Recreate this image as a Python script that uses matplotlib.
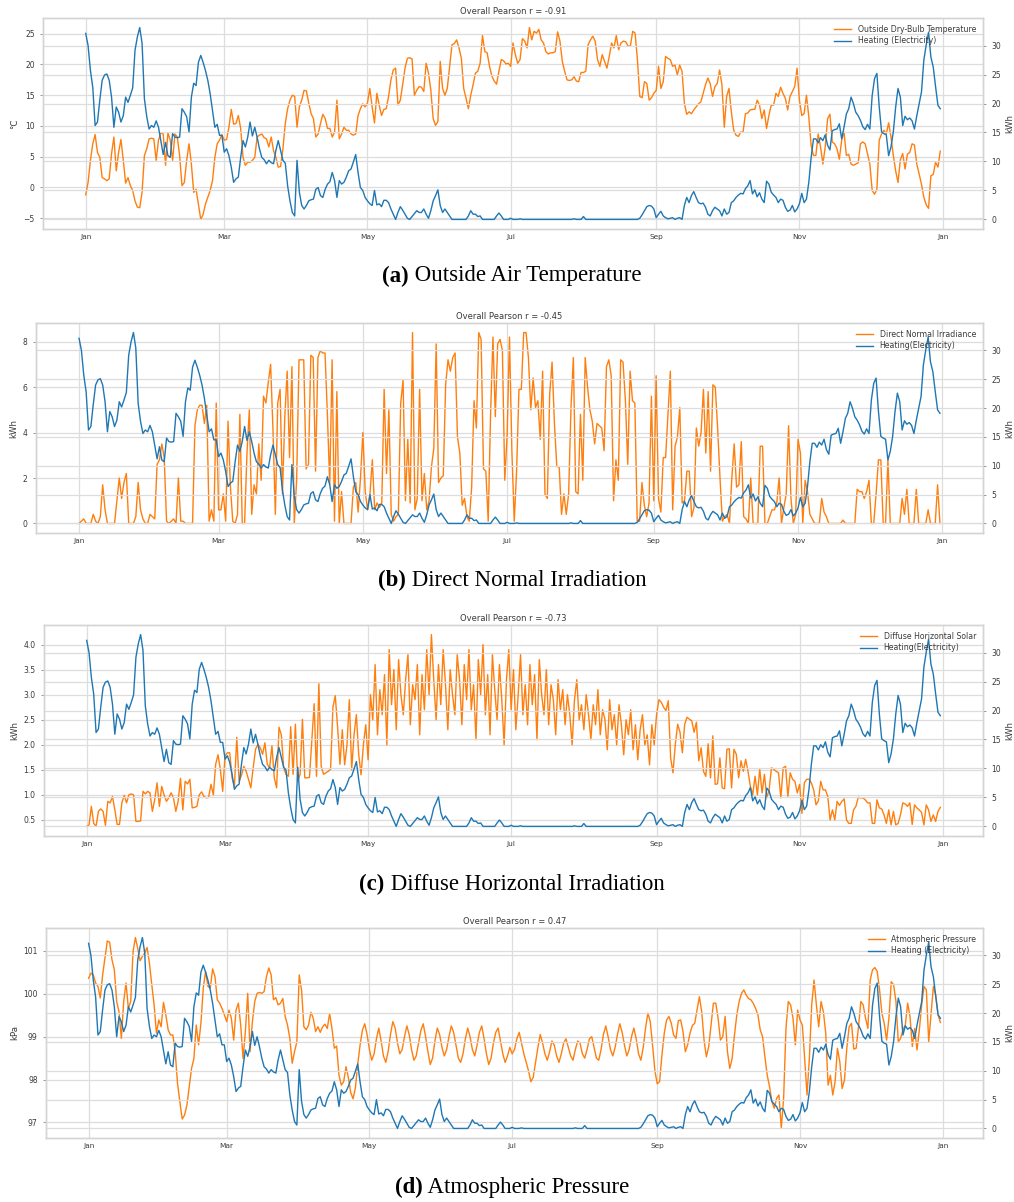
import pandas as pd
import matplotlib
matplotlib.use("Agg")
import matplotlib.pyplot as plt
import matplotlib.dates as mdates
from matplotlib.ticker import MultipleLocator

# daily heating electricity (kWh), shared by all four panels
heating = [
    32.1, 30.0, 25.7, 22.8, 16.2, 16.8, 20.6, 24.0, 24.9, 25.1,
    24.0, 21.1, 15.9, 19.4, 18.5, 16.8, 17.9, 21.1, 20.2, 21.4,
    22.7, 29.2, 31.5, 33.1, 30.4, 20.8, 17.7, 15.6, 16.2, 15.9,
    17.0, 15.9, 13.6, 11.2, 13.3, 11.0, 10.7, 14.8, 14.2, 14.1,
    14.2, 19.1, 18.5, 17.7, 15.1, 21.1, 23.5, 23.1, 27.1, 28.3,
    27.1, 25.7, 24.0, 21.7, 18.8, 15.9, 16.4, 14.5, 14.5, 11.6,
    12.2, 11.0, 9.0, 6.4, 7.0, 7.3, 10.7, 13.6, 12.5, 14.2,
    16.8, 14.4, 15.9, 14.2, 12.2, 10.7, 10.3, 9.6, 10.2, 9.8,
    9.6, 11.9, 13.6, 11.9, 10.2, 9.7, 5.8, 3.2, 1.2, 0.6,
    10.2, 4.7, 2.4, 1.8, 2.4, 3.2, 3.4, 3.5, 5.2, 5.5,
    4.1, 3.8, 5.2, 6.1, 6.5, 8.1, 6.7, 3.8, 6.7, 6.1,
    6.4, 7.3, 8.4, 8.7, 9.9, 11.2, 8.1, 5.5, 5.0, 3.8,
    3.2, 2.7, 2.4, 5.0, 2.5, 2.7, 2.2, 3.3, 3.3, 2.9,
    1.8, 0.9, 0.0, 1.2, 2.2, 1.6, 0.9, 0.2, 0.0, 0.5,
    1.0, 1.5, 1.2, 1.2, 1.8, 0.9, 0.2, 1.5, 3.2, 4.1,
    5.1, 2.4, 1.2, 1.8, 1.2, 0.6, 0.0, 0.0, 0.0, 0.0,
    0.0, 0.0, 0.0, 0.6, 1.5, 0.9, 0.9, 0.5, 0.6, 0.0,
    0.0, 0.0, 0.0, 0.0, 0.0, 0.6, 1.1, 0.6, 0.0, 0.0,
    0.0, 0.2, 0.0, 0.0, 0.0, 0.1, 0.0, 0.0, 0.0, 0.0,
    0.0, 0.0, 0.0, 0.0, 0.0, 0.0, 0.0, 0.0, 0.0, 0.0,
    0.0, 0.0, 0.0, 0.0, 0.0, 0.0, 0.0, 0.0, 0.1, 0.0,
    0.0, 0.0, 0.5, 0.0, 0.0, 0.0, 0.0, 0.0, 0.0, 0.0,
    0.0, 0.0, 0.0, 0.0, 0.0, 0.0, 0.0, 0.0, 0.0, 0.0,
    0.0, 0.0, 0.0, 0.0, 0.0, 0.0, 0.2, 0.8, 1.5, 2.2,
    2.4, 2.3, 1.8, 0.3, 0.9, 1.4, 0.6, 0.3, 0.1, 0.2,
    0.3, 0.0, 0.2, 0.3, 0.0, 2.4, 3.8, 2.9, 4.1, 4.8,
    3.8, 2.9, 2.7, 2.8, 2.1, 0.9, 0.6, 1.5, 2.1, 1.8,
    1.5, 0.6, 1.8, 0.9, 1.2, 2.9, 3.2, 3.8, 4.2, 4.5,
    4.4, 5.3, 5.8, 6.7, 4.4, 5.1, 3.9, 4.6, 3.5, 2.9,
    6.6, 6.1, 4.7, 4.2, 3.8, 2.9, 3.5, 3.3, 2.1, 1.4,
    1.6, 2.4, 1.3, 1.8, 2.7, 4.5, 2.9, 3.5, 6.4, 10.7,
    13.9, 13.9, 13.2, 14.1, 13.6, 14.6, 12.8, 12.0, 15.3, 15.5,
    15.6, 16.5, 13.9, 15.9, 18.2, 19.1, 21.1, 20.0, 18.5, 17.9,
    17.1, 16.0, 15.5, 16.4, 15.6, 21.4, 24.3, 25.2, 19.4, 15.1,
    14.8, 14.6, 11.0, 12.5, 15.1, 19.4, 22.6, 21.1, 16.2, 17.8,
    17.2, 17.5, 17.0, 15.6, 17.9, 20.0, 22.0, 27.5, 30.1, 32.3,
    28.0, 26.3, 22.9, 19.7, 19.1,
]

# outside dry-bulb temperature (degC)
outside_temp = [
    -1.2, 0.8, 4.4, 7.1, 8.6, 5.7, 4.9, 1.6, 1.4, 1.1,
    1.4, 5.5, 8.2, 2.7, 5.7, 7.8, 4.4, 0.7, 1.6, 0.3,
    -0.5, -2.2, -3.2, -3.3, -0.8, 5.2, 6.3, 7.9, 8.0, 7.9,
    4.4, 7.7, 8.9, 8.7, 3.6, 8.9, 7.7, 4.4, 8.7, 8.2,
    5.2, 0.3, 0.8, 4.4, 7.1, 3.8, -0.8, -0.3, -2.7, -5.2,
    -4.4, -2.7, -1.6, -0.5, 1.1, 4.9, 7.1, 7.7, 8.6, 7.7,
    7.8, 9.8, 12.7, 10.3, 10.4, 11.7, 9.6, 4.9, 3.6, 4.1,
    4.1, 4.4, 4.9, 8.2, 8.5, 8.7, 8.1, 7.9, 6.6, 8.2,
    6.0, 4.9, 3.3, 3.4, 6.3, 10.4, 12.8, 14.2, 15.0, 14.8,
    9.8, 13.1, 14.2, 15.8, 15.7, 13.7, 12.0, 11.2, 8.2, 8.7,
    10.4, 11.9, 11.2, 9.6, 9.6, 8.2, 9.0, 14.2, 7.9, 8.7,
    9.8, 9.3, 9.3, 8.7, 8.5, 8.7, 11.7, 12.8, 13.6, 13.1,
    13.7, 16.1, 13.1, 10.5, 15.3, 13.4, 11.7, 12.7, 12.8, 14.8,
    17.5, 19.1, 19.4, 13.4, 14.2, 16.7, 19.4, 21.0, 21.1, 20.9,
    15.0, 15.8, 16.4, 16.3, 15.6, 20.2, 18.6, 15.8, 11.2, 10.1,
    10.7, 20.5, 16.1, 15.0, 16.1, 19.7, 23.2, 23.4, 24.0, 22.7,
    21.0, 16.1, 14.5, 12.8, 15.0, 16.7, 18.6, 18.9, 20.2, 24.7,
    22.1, 21.9, 19.7, 18.1, 17.3, 16.8, 18.9, 20.8, 20.6, 20.1,
    20.2, 19.7, 23.5, 21.6, 20.2, 20.8, 24.2, 23.8, 22.7, 26.0,
    24.0, 25.4, 25.1, 25.7, 24.0, 23.5, 22.1, 21.7, 21.9, 21.9,
    22.1, 25.3, 23.8, 20.5, 18.9, 17.5, 17.4, 17.5, 18.0, 17.3,
    17.2, 18.7, 18.7, 18.9, 23.2, 24.0, 24.6, 23.8, 20.8, 19.7,
    21.6, 20.5, 19.4, 21.3, 23.5, 22.7, 24.7, 22.4, 23.5, 23.8,
    23.7, 23.0, 23.0, 25.4, 25.1, 20.8, 14.8, 14.6, 17.2, 16.9,
    14.2, 14.6, 15.3, 15.8, 19.7, 16.1, 17.2, 21.3, 21.0, 20.8,
    19.7, 19.9, 18.3, 19.9, 18.9, 13.7, 11.9, 12.3, 12.0, 12.6,
    13.1, 13.6, 13.9, 15.3, 16.7, 17.8, 16.9, 14.8, 16.4, 16.9,
    19.1, 16.7, 9.8, 14.8, 16.1, 12.3, 9.3, 8.5, 8.3, 9.0,
    9.0, 12.0, 12.1, 12.6, 12.7, 12.7, 14.2, 13.4, 11.2, 12.6,
    9.6, 11.7, 13.4, 13.4, 15.3, 14.8, 16.3, 15.3, 14.5, 12.6,
    14.8, 15.6, 16.4, 19.4, 14.2, 11.7, 12.0, 15.0, 11.5, 6.8,
    5.2, 5.2, 8.7, 6.6, 3.8, 6.6, 11.2, 11.9, 7.4, 7.1,
    6.3, 4.6, 7.7, 9.0, 5.2, 5.4, 3.8, 3.6, 3.8, 4.0,
    7.1, 7.4, 7.1, 5.5, 3.8, -0.5, -1.1, -0.3, 7.7, 8.7,
    9.3, 8.7, 10.5, 8.2, 5.2, 2.7, 0.8, 4.5, 5.5, 3.0,
    5.4, 5.7, 7.1, 6.9, 3.8, 2.2, 0.5, -1.6, -2.8, -3.4,
    1.9, 2.1, 4.1, 3.3, 5.9,
]

# direct normal irradiance (kWh)
direct_normal = [
    0.0, 0.1, 0.2, 0.0, 0.0, 0.0, 0.4, 0.1, 0.0, 0.3,
    1.7, 0.6, 0.0, 0.0, 0.0, 0.0, 1.0, 2.0, 1.1, 1.8,
    2.2, 0.0, 0.0, 0.0, 0.3, 1.8, 0.6, 0.2, 0.0, 0.0,
    0.4, 0.3, 0.2, 2.6, 2.8, 3.5, 2.9, 0.1, 0.0, 0.1,
    0.2, 0.0, 2.0, 0.1, 0.1, 0.0, 0.0, 0.0, 0.0, 4.3,
    5.0, 5.2, 5.2, 4.4, 5.2, 0.1, 0.6, 0.1, 5.3, 0.6,
    0.6, 1.3, 0.1, 4.5, 1.6, 0.1, 0.0, 0.4, 4.8, 0.0,
    0.0, 3.1, 5.0, 0.4, 1.7, 1.3, 3.5, 1.9, 5.6, 5.3,
    6.2, 7.0, 4.1, 0.4, 5.3, 5.9, 1.3, 4.7, 6.7, 2.9,
    6.9, 0.0, 1.9, 7.2, 7.2, 7.2, 2.4, 2.6, 7.4, 7.3,
    2.3, 7.3, 7.6, 7.5, 7.5, 4.8, 1.7, 7.2, 0.1, 5.8,
    0.0, 1.4, 0.0, 0.0, 0.0, 0.0, 1.6, 1.8, 0.5, 2.0,
    4.0, 1.4, 0.6, 1.3, 2.8, 0.6, 0.9, 0.7, 0.9, 5.9,
    2.2, 5.0, 0.4, 0.1, 0.3, 0.4, 5.3, 6.3, 1.0, 3.7,
    0.9, 8.4, 0.6, 1.1, 5.9, 1.0, 2.2, 0.6, 1.0, 2.5,
    3.3, 7.9, 1.8, 2.0, 2.1, 6.1, 7.2, 6.7, 7.3, 7.5,
    3.8, 3.1, 0.8, 1.1, 0.3, 0.1, 1.6, 5.4, 4.2, 8.4,
    8.1, 2.4, 2.3, 0.1, 4.8, 8.2, 4.7, 7.9, 8.1, 7.6,
    1.9, 3.9, 8.2, 3.2, 0.1, 2.3, 5.9, 5.9, 8.4, 8.4,
    7.3, 5.0, 6.4, 5.1, 5.4, 3.7, 6.7, 1.3, 1.1, 5.7,
    7.1, 4.4, 2.5, 2.5, 0.4, 1.3, 0.4, 1.3, 5.1, 7.3,
    1.4, 1.3, 4.8, 1.9, 7.3, 6.0, 5.0, 4.5, 3.5, 4.4,
    4.3, 4.2, 3.2, 6.9, 7.2, 6.5, 1.0, 2.8, 1.9, 7.2,
    7.1, 5.4, 2.6, 6.7, 5.4, 5.3, 0.1, 0.1, 1.8, 0.8,
    0.3, 0.9, 5.6, 1.0, 6.5, 1.1, 0.5, 2.9, 2.9, 4.8,
    6.7, 0.6, 3.4, 3.8, 5.1, 0.9, 1.0, 2.3, 2.3, 0.3,
    0.7, 4.2, 3.4, 4.0, 5.9, 3.1, 5.8, 2.3, 6.1, 6.0,
    4.2, 2.0, 0.1, 0.3, 0.4, 0.0, 2.0, 3.5, 1.6, 1.7,
    3.6, 0.3, 0.2, 0.0, 2.0, 0.0, 0.0, 0.0, 3.4, 3.4,
    0.0, 0.0, 0.3, 0.6, 0.6, 0.9, 2.0, 0.0, 0.7, 1.3,
    4.3, 1.1, 0.0, 0.4, 3.7, 3.1, 0.0, 1.9, 1.4, 0.4,
    0.2, 0.0, 0.0, 0.0, 1.1, 0.5, 0.3, 0.0, 0.0, 0.0,
    0.0, 0.0, 0.0, 0.15, 0.0, 0.0, 0.0, 0.0, 0.0, 1.5,
    1.4, 1.4, 1.1, 1.4, 1.9, 0.0, 0.0, 1.3, 2.8, 2.8,
    0.0, 0.0, 2.8, 0.0, 0.0, 0.0, 0.0, 0.0, 1.1, 0.4,
    1.5, 0.0, 0.0, 0.0, 1.5, 0.0, 0.0, 0.0, 0.0, 0.6,
    0.0, 0.0, 0.0, 1.7, 0.0,
]

# diffuse horizontal solar (kWh)
diffuse_horizontal = [
    0.37, 0.40, 0.77, 0.43, 0.37, 0.67, 0.72, 0.67, 0.39, 0.87,
    0.84, 0.97, 0.70, 0.41, 0.41, 0.84, 0.99, 0.84, 1.00, 1.02,
    1.00, 0.47, 0.47, 0.48, 1.07, 1.02, 1.07, 1.04, 0.67, 0.90,
    1.24, 0.77, 1.17, 1.00, 0.87, 0.94, 1.04, 0.94, 0.67, 0.87,
    1.33, 0.70, 1.27, 1.22, 1.31, 0.74, 0.75, 0.77, 1.00, 1.06,
    0.97, 0.94, 0.95, 1.21, 1.00, 1.61, 1.80, 1.51, 1.07, 1.78,
    1.84, 1.84, 1.34, 1.17, 2.15, 1.27, 1.39, 1.57, 1.47, 1.31,
    1.14, 1.54, 1.91, 2.01, 1.94, 1.81, 2.04, 1.61, 1.54, 1.98,
    1.34, 1.14, 2.35, 2.20, 1.54, 1.41, 1.37, 2.36, 1.41, 2.41,
    1.27, 1.41, 2.51, 1.34, 1.34, 1.35, 2.08, 2.82, 1.37, 3.22,
    1.57, 1.41, 1.44, 1.47, 1.51, 2.75, 2.98, 2.35, 1.61, 2.30,
    1.60, 2.00, 2.90, 1.50, 2.20, 2.60, 1.80, 1.40, 2.00, 2.40,
    1.70, 3.00, 2.50, 3.60, 2.20, 3.10, 2.60, 3.40, 2.00, 3.90,
    2.80, 3.50, 2.30, 3.70, 3.00, 2.60, 3.30, 3.80, 2.40, 3.20,
    2.90, 3.60, 2.20, 3.40, 2.70, 3.90, 3.00, 4.20, 3.30, 2.50,
    3.60, 2.80, 3.90, 3.20, 2.30, 3.50, 3.00, 2.60, 3.80, 3.30,
    2.40, 3.60, 2.90, 3.90, 2.70, 3.20, 2.10, 3.70, 3.00, 4.00,
    2.60, 3.40, 2.20, 3.80, 3.10, 2.50, 3.60, 2.90, 2.00, 3.30,
    3.90, 2.70, 3.50, 2.30, 3.00, 3.80, 2.60, 3.20, 2.40, 3.60,
    2.80, 3.40, 2.10, 3.70, 3.00, 2.60, 3.50, 2.40, 3.20, 2.90,
    2.20, 3.30, 2.70, 3.10, 2.40, 3.00, 2.60, 2.00, 2.90, 3.30,
    2.50, 2.80, 2.30, 3.00, 2.60, 2.10, 2.80, 2.40, 3.10, 2.20,
    2.70, 2.50, 1.90, 2.90, 2.30, 2.60, 2.00, 2.80, 2.40, 1.80,
    2.50, 2.20, 2.70, 1.90, 2.40, 1.70, 2.30, 2.60, 2.00, 2.20,
    1.60, 2.40, 2.00, 2.60, 2.90, 2.85, 2.75, 2.68, 2.88, 1.74,
    1.44, 2.01, 2.41, 2.25, 1.84, 2.41, 2.55, 2.51, 2.48, 2.25,
    2.45, 1.68, 1.94, 1.47, 1.37, 2.02, 1.34, 2.18, 1.21, 1.22,
    1.74, 1.14, 1.12, 1.91, 1.92, 1.14, 1.91, 1.81, 1.34, 1.68,
    1.47, 1.71, 1.47, 1.17, 1.00, 1.37, 1.00, 1.51, 1.04, 1.41,
    0.94, 1.10, 1.54, 1.51, 1.47, 1.44, 0.94, 1.54, 1.57, 0.97,
    1.44, 1.31, 1.27, 1.04, 1.21, 0.63, 1.24, 1.31, 1.31, 1.24,
    1.10, 0.80, 0.88, 1.27, 1.10, 1.10, 0.97, 0.50, 0.70, 0.50,
    0.87, 0.79, 0.87, 0.92, 0.50, 0.43, 0.43, 0.70, 0.77, 0.95,
    0.94, 0.94, 0.90, 0.84, 0.84, 0.43, 0.43, 0.90, 0.74, 0.72,
    0.60, 0.43, 0.70, 0.40, 0.67, 0.40, 0.43, 0.60, 0.84, 0.82,
    0.77, 0.84, 0.41, 0.80, 0.74, 0.70, 0.65, 0.40, 0.80, 0.70,
    0.47, 0.60, 0.47, 0.67, 0.75,
]

# atmospheric pressure (kPa)
pressure = [
    100.36, 100.48, 100.44, 100.25, 100.17, 99.90, 100.44, 100.83, 101.23, 101.20,
    100.79, 100.56, 99.82, 99.58, 98.96, 99.82, 100.25, 99.66, 99.82, 100.98,
    101.31, 101.06, 100.77, 100.87, 100.95, 101.08, 100.71, 100.21, 99.74, 99.08,
    99.39, 99.23, 99.80, 99.51, 99.16, 99.04, 99.04, 98.65, 97.91, 97.48,
    97.08, 97.17, 97.40, 97.83, 98.26, 98.49, 99.27, 98.81, 99.31, 100.13,
    100.52, 100.17, 100.13, 100.58, 100.40, 99.86, 99.78, 99.66, 99.51, 99.35,
    99.62, 99.43, 98.92, 99.62, 99.78, 99.27, 98.49, 99.12, 100.01, 98.65,
    99.35, 99.82, 100.01, 100.03, 100.01, 100.05, 100.40, 100.60, 100.44, 99.86,
    99.91, 99.74, 99.78, 99.89, 99.47, 99.27, 98.96, 98.38, 98.65, 98.88,
    100.44, 100.09, 99.23, 99.16, 99.27, 99.57, 99.43, 99.12, 99.23, 99.10,
    99.23, 99.29, 99.19, 99.54, 99.19, 98.73, 98.78, 98.10, 97.87, 97.95,
    98.30, 98.05, 97.70, 97.55, 97.80, 98.35, 98.80, 99.15, 99.30, 99.05,
    98.70, 98.45, 98.60, 98.95, 99.20, 98.90, 98.55, 98.40, 98.65, 99.05,
    99.35, 99.20, 98.85, 98.60, 98.70, 99.00, 99.25, 99.05, 98.70, 98.45,
    98.55, 98.85, 99.15, 99.30, 99.00, 98.65, 98.35, 98.50, 98.90, 99.20,
    99.05, 98.75, 98.55, 98.70, 99.00, 99.25, 99.10, 98.80, 98.50, 98.40,
    98.60, 98.95, 99.20, 99.00, 98.70, 98.55, 98.80, 99.10, 99.25, 98.95,
    98.60, 98.35, 98.50, 98.85, 99.10, 99.20, 98.90, 98.60, 98.40, 98.55,
    98.75, 98.60, 98.70, 98.95, 99.10, 98.85, 98.60, 98.40, 98.20, 97.95,
    98.05, 98.40, 98.75, 99.05, 98.85, 98.60, 98.45, 98.65, 98.90, 98.80,
    98.55, 98.40, 98.60, 98.85, 98.95, 98.75, 98.55, 98.45, 98.70, 98.90,
    98.85, 98.60, 98.50, 98.70, 98.95, 99.00, 98.75, 98.50, 98.45, 98.70,
    99.05, 99.25, 99.00, 98.70, 98.55, 98.75, 99.05, 99.30, 99.10, 98.80,
    98.55, 98.70, 99.00, 99.20, 98.95, 98.60, 98.45, 98.75, 99.20, 99.55,
    99.35, 98.80, 98.20, 97.90, 97.95, 98.57, 99.08, 99.39, 99.47, 99.31,
    99.04, 98.96, 99.37, 99.39, 99.12, 98.65, 98.81, 99.08, 99.26, 99.31,
    99.62, 99.93, 99.58, 98.92, 98.53, 98.77, 99.27, 99.78, 99.78, 99.43,
    98.92, 99.00, 99.47, 98.65, 98.26, 98.49, 99.04, 99.51, 99.82, 100.01,
    100.09, 99.97, 99.89, 99.86, 99.78, 99.66, 99.51, 99.16, 99.00, 98.53,
    98.10, 97.83, 97.48, 97.33, 97.56, 97.64, 96.86, 97.56, 99.19, 99.82,
    99.74, 99.43, 98.81, 99.62, 99.39, 99.27, 98.49, 97.64, 98.49, 99.74,
    100.32, 99.74, 99.23, 99.82, 99.58, 99.08, 97.87, 98.10, 97.64, 97.95,
    98.73, 98.42, 97.79, 97.99, 98.73, 99.23, 99.31, 98.71, 98.73, 99.23,
    99.82, 99.74, 99.43, 99.19, 100.32, 100.56, 100.61, 100.52, 100.09, 99.54,
    99.31, 98.92, 99.43, 100.28, 100.21, 99.82, 98.88, 98.96, 99.16, 99.27,
    99.78, 99.47, 98.77, 99.19, 98.69, 99.16, 99.74, 100.17, 100.09, 98.88,
    99.54, 100.17, 99.97, 99.51, 99.33,
]

pearson_r = ["-0.91", "-0.45", "-0.73", "0.47"]
left_labels = ["°C", "kWh", "kWh", "kPa"]
series_names = ["Outside Dry-Bulb Temperature", "Direct Normal Irradiance",
                "Diffuse Horizontal Solar", "Atmospheric Pressure"]
heating_names = ["Heating (Electricity)", "Heating(Electricity)",
                 "Heating(Electricity)", "Heating (Electricity)"]
caption_letters = ["(a)", "(b)", "(c)", "(d)"]
caption_texts = ["Outside Air Temperature", "Direct Normal Irradiation",
                 "Diffuse Horizontal Irradiation", "Atmospheric Pressure"]
left_steps = [5, 2, 0.5, 1]

W, H = 1014, 1202
ORANGE = "#ff7f0e"
BLUE = "#1f77b4"
GRID = "#dddddd"
EDGE = "#d4d4d4"
TXT = "#3a3a3a"

# axes boxes in pixels: left, top, right, bottom
boxes = [(43, 18, 983, 229), (36, 323, 983, 533),
         (44, 625, 983, 836), (46, 928, 983, 1138)]
caption_y = [276, 580, 884, 1187]

fig = plt.figure(figsize=(W / 100, H / 100), dpi=100)


def style_axis(a):
    for s in a.spines.values():
        s.set_color(EDGE)
        s.set_linewidth(1.0)
    a.tick_params(labelsize=5.5, colors=TXT, length=2.5, width=0.6, color="#888888")


def draw_panel(i, values):
    l, t, r, b = boxes[i]
    ax = fig.add_axes([l / W, 1 - b / H, (r - l) / W, (b - t) / H])
    ax2 = ax.twinx()

    days = pd.date_range("2019-01-01", periods=len(values), freq="D")
    hdays = pd.date_range("2019-01-01", periods=len(heating), freq="D")
    l1, = ax.plot(days, values, color=ORANGE, lw=1.0, label=series_names[i])
    l2, = ax2.plot(hdays, heating, color=BLUE, lw=1.0, label=heating_names[i])

    ax.xaxis.set_major_locator(mdates.MonthLocator(bymonth=[1, 3, 5, 7, 9, 11]))
    ax.xaxis.set_major_formatter(mdates.DateFormatter("%b"))
    ax.yaxis.set_major_locator(MultipleLocator(left_steps[i]))
    ax2.yaxis.set_major_locator(MultipleLocator(5))

    ax.grid(True, color=GRID, lw=0.9)
    ax2.grid(True, axis="y", color=GRID, lw=0.9)
    style_axis(ax)
    style_axis(ax2)
    ax.tick_params(axis="x", length=0, labelsize=5.3)

    ax.set_ylabel(left_labels[i], fontsize=6.2, color=TXT, labelpad=3)
    ax2.set_ylabel("kWh", fontsize=6.2, color=TXT, labelpad=3)
    ax.set_title("Overall Pearson r = " + pearson_r[i], fontsize=6, color=TXT, pad=3)

    ax2.legend(handles=[l1, l2], loc="upper right", frameon=False,
               fontsize=5.6, labelcolor=TXT, handlelength=2.2,
               borderaxespad=0.5, labelspacing=0.3)


def add_caption(i):
    y = 1 - caption_y[i] / H
    bold = fig.text(0, y, caption_letters[i], fontsize=16.5, fontweight="bold",
                    family="Liberation Serif", va="center")
    rest = fig.text(0, y, " " + caption_texts[i], fontsize=16.5,
                    family="Liberation Serif", va="center")
    rend = fig.canvas.get_renderer()
    wb = bold.get_window_extent(rend).width
    wr = rest.get_window_extent(rend).width
    x0 = 512 - (wb + wr) / 2
    bold.set_x(x0 / W)
    rest.set_x((x0 + wb) / W)


all_series = [outside_temp, direct_normal, diffuse_horizontal, pressure]
for i, vals in enumerate(all_series):
    draw_panel(i, vals)
    add_caption(i)

fig.savefig("out.png", dpi=100)
